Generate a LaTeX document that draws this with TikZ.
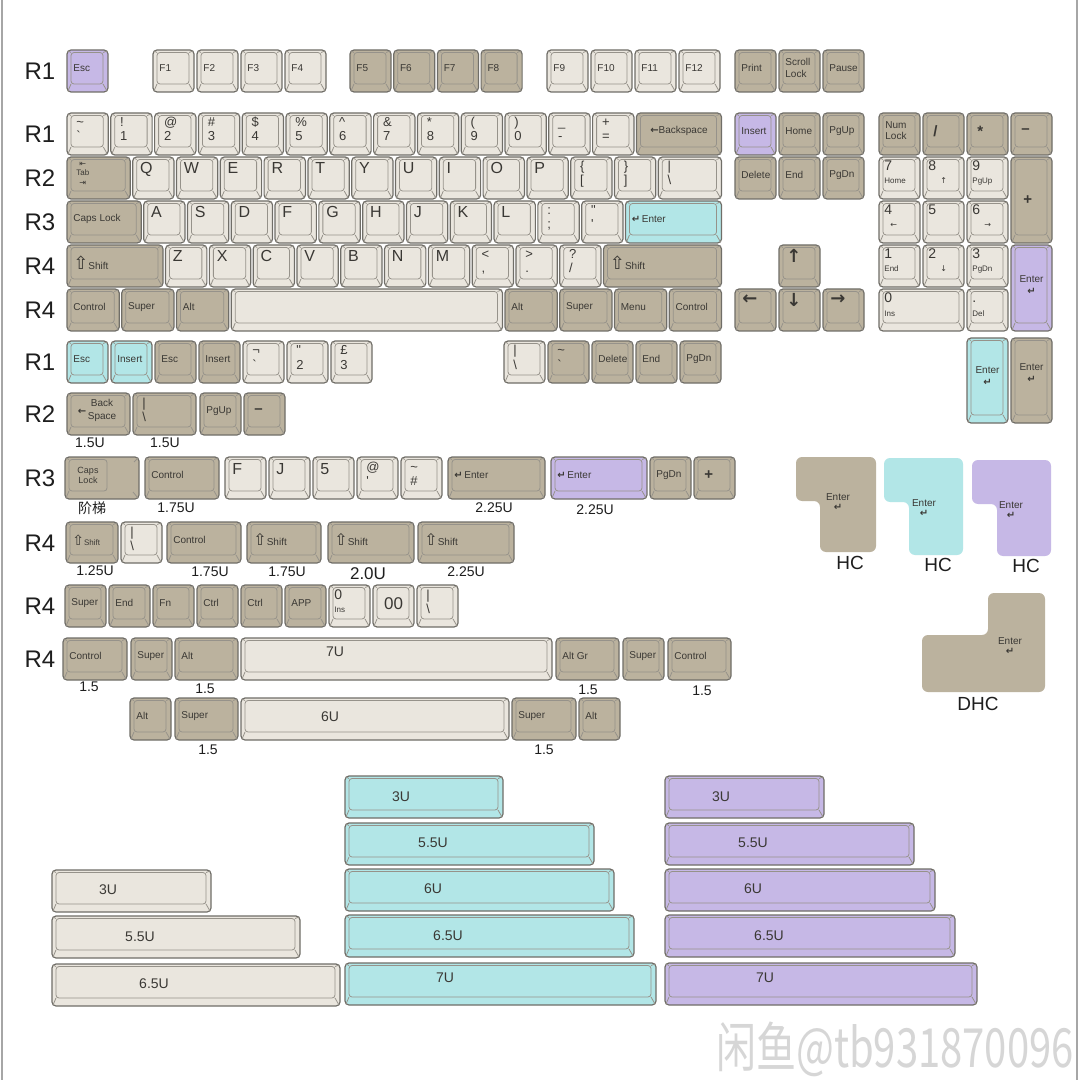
\documentclass[tikz,border=0pt]{standalone}
\usepackage{fontspec}
\setmainfont{Liberation Sans}
\newfontfamily\cjk{Noto Sans CJK SC}
\newfontfamily\sym{DejaVu Sans}

\definecolor{capLight}{RGB}{234,230,222}
\definecolor{capDark}{RGB}{187,178,158}
\definecolor{capCyan}{RGB}{178,230,231}
\definecolor{capPurple}{RGB}{198,184,230}
\definecolor{capEdge}{RGB}{112,110,104}
\definecolor{capBevel}{RGB}{150,146,138}
\definecolor{capInk}{RGB}{58,56,52}
\definecolor{labelInk}{RGB}{30,30,30}

\newcommand{\keyU}{43.8}
\newcommand{\keyW}{41.3}
\newcommand{\sm}{\fontsize{4}{4.5}\selectfont}
\newcounter{capno}

\tikzset{
  capbody/.style={draw=capEdge, line width=0.6pt, rounded corners=2pt},
  captop/.style={draw=capBevel, line width=0.4pt, rounded corners=1.5pt},
  capbevel/.style={draw=capBevel, line width=0.4pt},
  legend/.style={inner sep=0pt, text=capInk},
  fn/.style={legend, at={(6,18)}, anchor=west, align=left, font=\fontsize{5}{5.6}\selectfont},
  mid/.style={legend, at={({(\kw)/2},{(\kh)/2-3})}, align=center, font=\fontsize{5}{5.6}\selectfont},
  ltr/.style={legend, at={(7,17)}, anchor=base west, font=\fontsize{8}{8}\selectfont},
  dbl/.style={legend, at={(9,28)}, anchor=base west, align=left, font=\fontsize{6.5}{7}\selectfont},
  num/.style={legend, at={(5,27)}, anchor=base west, align=left, font=\fontsize{7}{6.5}\selectfont},
  op/.style={legend, at={(10,18)}, anchor=west, font=\bfseries\fontsize{7.5}{7.5}\selectfont},
  arw/.style={legend, at={(15,11)}, font=\sym\bfseries\fontsize{9}{9}\selectfont},
  bar/.style={legend, font=\fontsize{7}{7}\selectfont},
  rowlbl/.style={font=\fontsize{12}{12}\selectfont, text=labelInk, inner sep=0pt},
  sizelbl/.style={font=\fontsize{7}{7}\selectfont, text=labelInk, inner sep=0pt},
  hclbl/.style={font=\fontsize{9.5}{9.5}\selectfont, text=labelInk, inner sep=0pt},
  hctxt/.style={legend, align=center, font=\fontsize{5}{5.4}\selectfont},
}

% one keycap: x, y, width, height, fill, legend style, legend
\newcommand{\keycap}[7]{%
  \stepcounter{capno}%
  \begin{scope}[shift={(#1,#2)}]
    \def\kw{#3}\def\kh{#4}%
    \filldraw[capbody, fill=#5] (0,0) rectangle (#3,#4);
    \draw[captop] (4,2.5) rectangle (#3-5,#4-8);
    \draw[capbevel] (1,1) -- (4,2.5) (#3-1,1) -- (#3-5,2.5)
      (1,#4-1) -- (4,#4-8) (#3-1,#4-1) -- (#3-5,#4-8);
    \node[#6] (cap\arabic{capno}) {#7};
  \end{scope}}

\begin{document}
\begin{tikzpicture}[x=0.5pt, y=-0.5pt]
  \useasboundingbox (0,0) rectangle (1080,1080);
  \fill[white] (0,0) rectangle (1080,1080);
  \draw[black!35, line width=1pt] (2,0) -- (2,1080) (1077,0) -- (1077,1080);

  % row labels
  \foreach \t/\yy [count=\i] in {R1/71, R1/134, R2/178, R3/222, R4/266, R4/310,
      R1/362, R2/414, R3/478, R4/543, R4/606, R4/659}
    \node[rowlbl] (row\i) at (40,\yy) {\t};

  % function row
  \keycap{67}{50}{41}{42}{capPurple}{fn}{Esc}
  \foreach \ka [count=\i from 0] in {F1,F2,F3,F4}
    {\keycap{153+\i*44}{50}{41}{42}{capLight}{fn}{\ka}}
  \foreach \ka [count=\i from 0] in {F5,F6,F7,F8}
    {\keycap{350+\i*43.7}{50}{41}{42}{capDark}{fn}{\ka}}
  \foreach \ka [count=\i from 0] in {F9,F10,F11,F12}
    {\keycap{547+\i*44}{50}{41}{42}{capLight}{fn}{\ka}}
  \foreach \ka [count=\i from 0] in {Print,Scroll\\Lock,Pause}
    {\keycap{735+\i*44}{50}{41}{42}{capDark}{fn}{\ka}}

  % number row
  \foreach \ka/\kb [count=\i from 0] in {\textasciitilde/\textasciigrave, !/1, @/2,
      \#/3, \$/4, \%/5, \textasciicircum/6, \&/7, */8, {(}/9, {)}/0, \_/-, +/=}
    {\keycap{67+\i*\keyU}{113}{\keyW}{42}{capLight}{dbl}{\ka\\{}\kb}}
  \keycap{67+13*\keyU}{113}{2*\keyU-2.5}{42}{capDark}{mid}{{\sym\bfseries ←}Backspace}

  % Q row
  \keycap{67}{157}{1.5*\keyU-2.5}{42}{capDark}{{legend, at={(9,5)}, anchor=north west,
    align=center, font=\fontsize{4}{4.6}\selectfont}}{{\sym ⇤}\\Tab\\{\sym ⇥}}
  \foreach \ka [count=\i from 0] in {Q,W,E,R,T,Y,U,I,O,P}
    {\keycap{67+1.5*\keyU+\i*\keyU}{157}{\keyW}{42}{capLight}{ltr}{\ka}}
  \keycap{67+11.5*\keyU}{157}{\keyW}{42}{capLight}{dbl}{\{\\{}[}
  \keycap{67+12.5*\keyU}{157}{\keyW}{42}{capLight}{dbl}{\}\\{}]}
  \keycap{67+13.5*\keyU}{157}{1.5*\keyU-2.5}{42}{capLight}{dbl}{\textbar\\\textbackslash}

  % A row
  \keycap{67}{201}{1.75*\keyU-2.5}{42}{capDark}{fn}{Caps Lock}
  \foreach \ka [count=\i from 0] in {A,S,D,F,G,H,J,K,L}
    {\keycap{67+1.75*\keyU+\i*\keyU}{201}{\keyW}{42}{capLight}{ltr}{\ka}}
  \keycap{67+10.75*\keyU}{201}{\keyW}{42}{capLight}{dbl}{:\\{};}
  \keycap{67+11.75*\keyU}{201}{\keyW}{42}{capLight}{dbl}{\textquotedbl\\\textquotesingle}
  \keycap{67+12.75*\keyU}{201}{2.25*\keyU-2.5}{42}{capCyan}{fn}{{\sym\bfseries ↵}\,Enter}

  % Z row
  \keycap{67}{245}{2.25*\keyU-2.5}{42}{capDark}{fn}{{\sym\fontsize{9}{9}\selectfont ⇧}Shift}
  \foreach \ka [count=\i from 0] in {Z,X,C,V,B,N,M}
    {\keycap{67+2.25*\keyU+\i*\keyU}{245}{\keyW}{42}{capLight}{ltr}{\ka}}
  \keycap{67+9.25*\keyU}{245}{\keyW}{42}{capLight}{dbl}{<\\{},}
  \keycap{67+10.25*\keyU}{245}{\keyW}{42}{capLight}{dbl}{>\\{}.}
  \keycap{67+11.25*\keyU}{245}{\keyW}{42}{capLight}{dbl}{?\\{}/}
  \keycap{67+12.25*\keyU}{245}{2.75*\keyU-2.5}{42}{capDark}{fn}{{\sym\fontsize{9}{9}\selectfont ⇧}Shift}

  % space row
  \foreach \ka [count=\i from 0] in {Control,Super,Alt}
    {\keycap{67+\i*1.25*\keyU}{289}{1.25*\keyU-2.5}{42}{capDark}{fn}{\ka}}
  \keycap{67+3.75*\keyU}{289}{6.25*\keyU-2.5}{42}{capLight}{fn}{}
  \foreach \ka [count=\i from 0] in {Alt,Super,Menu,Control}
    {\keycap{67+10*\keyU+\i*1.25*\keyU}{289}{1.25*\keyU-2.5}{42}{capDark}{fn}{\ka}}

  % navigation block
  \keycap{735}{113}{41}{42}{capPurple}{fn}{Insert}
  \keycap{779}{113}{41}{42}{capDark}{fn}{Home}
  \keycap{823}{113}{41}{42}{capDark}{fn}{PgUp}
  \foreach \ka [count=\i from 0] in {Delete,End,PgDn}
    {\keycap{735+\i*44}{157}{41}{42}{capDark}{fn}{\ka}}
  \keycap{779}{245}{41}{42}{capDark}{arw}{↑}
  \keycap{735}{289}{41}{42}{capDark}{arw}{←}
  \keycap{779}{289}{41}{42}{capDark}{arw}{↓}
  \keycap{823}{289}{41}{42}{capDark}{arw}{→}

  % number pad
  \keycap{879}{113}{41}{42}{capDark}{fn}{Num\\Lock}
  \keycap{923}{113}{41}{42}{capDark}{op}{/}
  \keycap{967}{113}{41}{42}{capDark}{op}{*}
  \keycap{1011}{113}{41}{42}{capDark}{op}{–}
  \keycap{879}{157}{41}{42}{capLight}{num}{7\\{\sm Home}}
  \keycap{923}{157}{41}{42}{capLight}{num}{8\\\hspace*{6pt}{\sym\sm ↑}}
  \keycap{967}{157}{41}{42}{capLight}{num}{9\\{\sm PgUp}}
  \keycap{1011}{157}{41}{86}{capDark}{{op, at={(12,43)}}}{+}
  \keycap{879}{201}{41}{42}{capLight}{num}{4\\\hspace*{3pt}{\sym\sm ←}}
  \keycap{923}{201}{41}{42}{capLight}{{num, at={(5,14)}}}{5}
  \keycap{967}{201}{41}{42}{capLight}{num}{6\\\hspace*{6pt}{\sym\sm →}}
  \keycap{879}{245}{41}{42}{capLight}{num}{1\\{\sm End}}
  \keycap{923}{245}{41}{42}{capLight}{num}{2\\\hspace*{6pt}{\sym\sm ↓}}
  \keycap{967}{245}{41}{42}{capLight}{num}{3\\{\sm PgDn}}
  \keycap{1011}{245}{41}{86}{capPurple}{{mid, at={(20.5,40)}}}{Enter\\{\sym\bfseries ↵}}
  \keycap{879}{289}{85}{42}{capLight}{num}{0\\{\sm Ins}}
  \keycap{967}{289}{41}{42}{capLight}{num}{.\\{\sm Del}}

  % extra keys, R1
  \keycap{67}{341}{41}{42}{capCyan}{fn}{Esc}
  \keycap{111}{341}{41}{42}{capCyan}{fn}{Insert}
  \keycap{155}{341}{41}{42}{capDark}{fn}{Esc}
  \keycap{199}{341}{41}{42}{capDark}{fn}{Insert}
  \keycap{243}{341}{41}{42}{capLight}{dbl}{¬\\\textasciigrave}
  \keycap{287}{341}{41}{42}{capLight}{dbl}{\textquotedbl\\2}
  \keycap{331}{341}{41}{42}{capLight}{dbl}{£\\3}
  \keycap{504}{341}{41}{42}{capLight}{dbl}{\textbar\\\textbackslash}
  \keycap{548}{341}{41}{42}{capDark}{dbl}{\textasciitilde\\\textasciigrave}
  \keycap{592}{341}{41}{42}{capDark}{fn}{Delete}
  \keycap{636}{341}{41}{42}{capDark}{fn}{End}
  \keycap{680}{341}{41}{42}{capDark}{fn}{PgDn}
  \keycap{967}{338}{41}{85}{capCyan}{{mid, at={(20.5,38)}}}{Enter\\{\sym\bfseries ↵}}
  \keycap{1011}{338}{41}{85}{capDark}{{mid, at={(20.5,35)}}}{Enter\\{\sym\bfseries ↵}}

  % extra keys, R2
  \keycap{67}{393}{63}{42}{capDark}{{mid, at={(30,17)}}}{\raisebox{2.5pt}{\sym\bfseries ←}\,\shortstack{Back\\Space}}
  \keycap{133}{393}{63}{42}{capDark}{dbl}{\textbar\\\textbackslash}
  \keycap{200}{393}{41}{42}{capDark}{fn}{PgUp}
  \keycap{244}{393}{41}{42}{capDark}{op}{–}

  % extra keys, R3 (stepped caps lock first)
  \filldraw[capbody, fill=capDark] (65,457) rectangle (139,499);
  \draw[captop] (69,459.5) rectangle (107,491);
  \draw[capbevel] (66,458) -- (69,459.5) (66,498) -- (69,491)
    (138,458) -- (134,462) (138,498) -- (133,492);
  \node[legend, align=center, font=\fontsize{4.5}{5}\selectfont] (capsstep) at (88,475) {Caps\\Lock};
  \keycap{145}{457}{74}{42}{capDark}{fn}{Control}
  \foreach \ka [count=\i from 0] in {F,J,5}
    {\keycap{225+\i*44}{457}{41}{42}{capLight}{ltr}{\ka}}
  \keycap{357}{457}{41}{42}{capLight}{dbl}{@\\\textquotesingle}
  \keycap{401}{457}{41}{42}{capLight}{dbl}{\textasciitilde\\\#}
  \keycap{448}{457}{97}{42}{capDark}{fn}{{\sym\bfseries ↵}\,Enter}
  \keycap{551}{457}{96}{42}{capPurple}{fn}{{\sym\bfseries ↵}\,Enter}
  \keycap{650}{457}{41}{42}{capDark}{fn}{PgDn}
  \keycap{694}{457}{41}{42}{capDark}{op}{+}

  % extra keys, R4 modifiers
  \keycap{66}{522}{52}{41}{capDark}{fn}{{\sym\fontsize{7}{7}\selectfont ⇧}\fontsize{4}{4}\selectfont Shift}
  \keycap{121}{522}{41}{41}{capLight}{dbl}{\textbar\\\textbackslash}
  \keycap{167}{522}{74}{41}{capDark}{fn}{Control}
  \keycap{247}{522}{74}{41}{capDark}{fn}{{\sym\fontsize{8}{8}\selectfont ⇧}Shift}
  \keycap{328}{522}{86}{41}{capDark}{fn}{{\sym\fontsize{8}{8}\selectfont ⇧}Shift}
  \keycap{418}{522}{96}{41}{capDark}{fn}{{\sym\fontsize{8}{8}\selectfont ⇧}Shift}

  % extra keys, R4 singles
  \foreach \ka [count=\i from 0] in {Super,End,Fn,Ctrl,Ctrl,APP}
    {\keycap{65+\i*44}{585}{41}{42}{capDark}{fn}{\ka}}
  \keycap{329}{585}{41}{42}{capLight}{num}{0\\{\sm Ins}}
  \keycap{373}{585}{41}{42}{capLight}{{bar, at={(20.5,19)}, font=\fontsize{8.5}{8.5}\selectfont}}{00}
  \keycap{417}{585}{41}{42}{capLight}{dbl}{\textbar\\\textbackslash}

  % bottom rows with 7U and 6U
  \keycap{63}{638}{64}{42}{capDark}{fn}{Control}
  \keycap{131}{638}{41}{42}{capDark}{fn}{Super}
  \keycap{175}{638}{63}{42}{capDark}{fn}{Alt}
  \keycap{241}{638}{311}{42}{capLight}{{bar, at={(94,14)}}}{7U}
  \keycap{556}{638}{63}{42}{capDark}{fn}{Alt Gr}
  \keycap{623}{638}{41}{42}{capDark}{fn}{Super}
  \keycap{668}{638}{63}{42}{capDark}{fn}{Control}
  \keycap{130}{698}{41}{42}{capDark}{fn}{Alt}
  \keycap{175}{698}{63}{42}{capDark}{fn}{Super}
  \keycap{241}{698}{268}{42}{capLight}{{bar, at={(89,19)}}}{6U}
  \keycap{512}{698}{64}{42}{capDark}{fn}{Super}
  \keycap{579}{698}{41}{42}{capDark}{fn}{Alt}

  % size notes
  \foreach \t/\xx/\yy [count=\i] in {1.5U/90/443, 1.5U/165/443, 1.75U/176/508,
      2.25U/494/508, 2.25U/595/510, 1.25U/95/571, 1.75U/210/572, 1.75U/287/572,
      2.25U/466/572, 1.5/89/687, 1.5/205/689, 1.5/588/690, 1.5/702/691,
      1.5/208/750, 1.5/544/750}
    \node[sizelbl] (size\i) at (\xx,\yy) {\t};
  \node[sizelbl, font=\fontsize{8.5}{8.5}\selectfont] (size2u) at (368,574) {2.0U};
  \node[sizelbl, font=\cjk\fontsize{7}{7}\selectfont] (stepnote) at (92,508) {阶梯};

  % big-ass enters
  \fill[capDark, rounded corners=3pt] (796,457) -- (876,457) -- (876,552)
    -- (820,552) -- (820,501) -- (796,501) -- cycle;
  \fill[capCyan, rounded corners=3pt] (884,458) -- (963,458) -- (963,555)
    -- (909,555) -- (909,502) -- (884,502) -- cycle;
  \fill[capPurple, rounded corners=3pt] (972,460) -- (1051,460) -- (1051,556)
    -- (997,556) -- (997,504) -- (972,504) -- cycle;
  \fill[capDark, rounded corners=3pt] (922,635) -- (988,635) -- (988,593)
    -- (1045,593) -- (1045,692) -- (922,692) -- cycle;
  \node[hctxt] (hcdark) at (838,502) {Enter\\{\sym\bfseries ↵}};
  \node[hctxt] (hccyan) at (924,508) {Enter\\{\sym\bfseries ↵}};
  \node[hctxt] (hcpurple) at (1011,510) {Enter\\{\sym\bfseries ↵}};
  \node[hctxt] (dhcenter) at (1010,646) {Enter\\{\sym\bfseries ↵}};
  \node[hclbl] (hc1) at (850,563) {HC};
  \node[hclbl] (hc2) at (938,565) {HC};
  \node[hclbl] (hc3) at (1026,566) {HC};
  \node[hclbl] (dhc) at (978,704) {DHC};

  % spacebar sets
  \foreach \ka/\kx/\ky/\kl/\lbx/\lby in {3U/345/776/158/56/21, 5.5U/345/823/249/88/20,
      6U/345/869/269/88/20, 6.5U/345/915/289/103/21, 7U/345/963/311/100/15}
    {\keycap{\kx}{\ky}{\kl}{42}{capCyan}{{bar, at={(\lbx,\lby)}}}{\ka}}
  \foreach \ka/\kx/\ky/\kl/\lbx/\lby in {3U/665/776/159/56/21, 5.5U/665/823/249/88/20,
      6U/665/869/270/88/20, 6.5U/665/915/290/104/21, 7U/665/963/312/100/15}
    {\keycap{\kx}{\ky}{\kl}{42}{capPurple}{{bar, at={(\lbx,\lby)}}}{\ka}}
  \foreach \ka/\kx/\ky/\kl/\lbx/\lby in {3U/52/870/159/56/20, 5.5U/52/916/248/88/21,
      6.5U/52/964/288/102/20}
    {\keycap{\kx}{\ky}{\kl}{42}{capLight}{{bar, at={(\lbx,\lby)}}}{\ka}}

  % watermark
  \node[text=black!16, inner sep=0pt, yscale=1.35, font=\cjk\fontsize{20}{20}\selectfont]
    (mark) at (895,1049) {闲鱼@tb931870096};
\end{tikzpicture}
\end{document}
